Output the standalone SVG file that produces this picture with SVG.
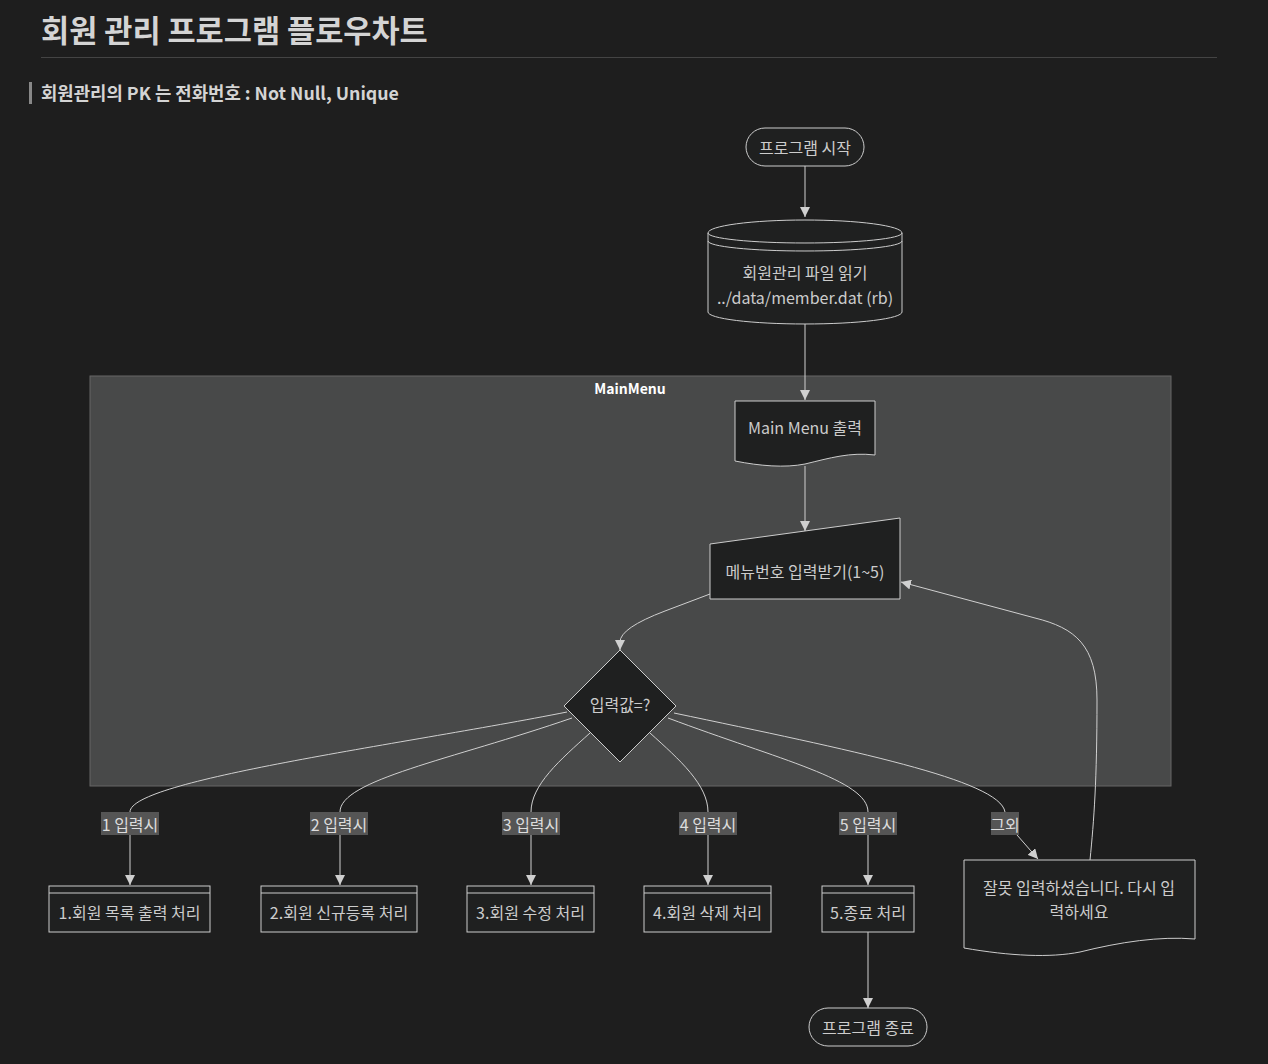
<svg xmlns="http://www.w3.org/2000/svg" width="1268" height="1064" viewBox="0 0 1268 1064">
<defs>
<style>
text{font-family:"Noto Sans CJK KR","Noto Sans",sans-serif;fill:#cccccc;}
.t{font-size:16px;text-anchor:middle;dominant-baseline:central;}
.node{fill:#1f2020;stroke:#cccccc;stroke-width:1;}
.edge{fill:none;stroke:#d0d0d0;stroke-width:1;}
.lbl{fill:#555555;}
.lt{font-size:16px;text-anchor:middle;dominant-baseline:central;fill:#dddddd;}
</style>
<marker id="arr" viewBox="0 0 10 10" refX="10" refY="5" markerWidth="10" markerHeight="10" markerUnits="userSpaceOnUse" orient="auto">
<path d="M0,0 L10,5 L0,10 z" fill="#d0d0d0"/>
</marker>
</defs>
<rect width="1268" height="1064" fill="#1e1e1e"/>
<g id="header">
<text x="41" y="42" style="font-size:30.6px;font-weight:bold;fill:#d4d4d4">회원 관리 프로그램 플로우차트</text>
<line x1="41" y1="57.5" x2="1217" y2="57.5" stroke="#444444" stroke-width="1"/>
<rect x="29" y="82" width="3" height="22" fill="#888888"/>
<text x="41" y="100" style="font-size:17.8px;font-weight:bold;fill:#d4d4d4">회원관리의 PK 는 전화번호 : Not Null, Unique</text>
</g>
<g id="MainMenu">
<rect x="90" y="376" width="1081" height="410" fill="#484949" stroke="#666666" stroke-width="1"/>
<text x="630" y="388" style="font-size:14px;font-weight:bold;fill:#ffffff;text-anchor:middle;dominant-baseline:central">MainMenu</text>
</g>
<g id="edges">
<path class="edge" d="M805,166 L805,217" marker-end="url(#arr)"/>
<path class="edge" d="M805,324 L805,400" marker-end="url(#arr)"/>
<path class="edge" d="M805,466 L805,531" marker-end="url(#arr)"/>
<path class="edge" d="M710,594 L665,611 Q620,628 620,642 L620,650" marker-end="url(#arr)"/>
<path class="edge" d="M567,712 C400,745 130,780 130,812"/>
<path class="edge" d="M572,718 C450,760 340,780 340,812"/>
<path class="edge" d="M590,733 C560,760 531,785 531,812"/>
<path class="edge" d="M650,733 C680,760 708,785 708,812"/>
<path class="edge" d="M668,718 C780,760 868,780 868,812"/>
<path class="edge" d="M674,713 C850,750 1000,780 1005,812"/>
<path class="edge" d="M130,835 L130,885" marker-end="url(#arr)"/>
<path class="edge" d="M340,835 L340,885" marker-end="url(#arr)"/>
<path class="edge" d="M531,835 L531,885" marker-end="url(#arr)"/>
<path class="edge" d="M708,835 L708,885" marker-end="url(#arr)"/>
<path class="edge" d="M868,835 L868,885" marker-end="url(#arr)"/>
<path class="edge" d="M1017,835 L1038,859" marker-end="url(#arr)"/>
<path class="edge" d="M1090,860 C1094,820 1097,780 1097,700 C1097,645 1075,628 1035,618 L901,582" marker-end="url(#arr)"/>
<path class="edge" d="M868,932 L868,1008" marker-end="url(#arr)"/>
<rect class="lbl" x="101" y="812" width="58" height="23"/>
<text class="lt" x="130" y="823.5">1 입력시</text>
<rect class="lbl" x="310" y="812" width="58" height="23"/>
<text class="lt" x="339" y="823.5">2 입력시</text>
<rect class="lbl" x="502" y="812" width="58" height="23"/>
<text class="lt" x="531" y="823.5">3 입력시</text>
<rect class="lbl" x="679" y="812" width="58" height="23"/>
<text class="lt" x="708" y="823.5">4 입력시</text>
<rect class="lbl" x="839" y="812" width="58" height="23"/>
<text class="lt" x="868" y="823.5">5 입력시</text>
<rect class="lbl" x="991" y="812" width="28" height="23"/>
<text class="lt" x="1005" y="823.5">그외</text>
</g>
<g id="start">
<rect class="node" x="746" y="128" width="118" height="38" rx="19"/>
<text class="t" x="805" y="147">프로그램 시작</text>
</g>
<g id="readfile">
<path class="node" d="M708,233 A97,13 0 0 1 902,233 L902,312 A97,12 0 0 1 708,312 Z"/>
<path class="edge" style="stroke:#cccccc" d="M708,233 A97,10 0 0 0 902,233"/>
<path class="edge" style="stroke:#cccccc" d="M708,241 A97,10 0 0 0 902,241"/>
<text class="t" x="805" y="272">회원관리 파일 읽기</text>
<text class="t" x="805" y="297">../data/member.dat (rb)</text>
</g>
<g id="mainmenu">
<path class="node" d="M735,401 L875,401 L875,455 C850,452 830,458 805,464 C785,468 760,466 735,461 Z"/>
<text class="t" x="805" y="427">Main Menu 출력</text>
</g>
<g id="input">
<path class="node" d="M710,544 L900,518 L900,599 L710,599 Z"/>
<text class="t" x="805" y="571">메뉴번호 입력받기(1~5)</text>
</g>
<g id="decision">
<path class="node" d="M620,650 L676,706 L620,762 L564,706 Z"/>
<text class="t" x="620" y="704">입력값=?</text>
</g>
<g id="p1">
<rect class="node" x="49" y="886" width="161" height="46"/>
<line x1="49" y1="893" x2="210" y2="893" stroke="#cccccc"/>
<text class="t" x="129.5" y="912">1.회원 목록 출력 처리</text>
</g>
<g id="p2">
<rect class="node" x="261" y="886" width="156" height="46"/>
<line x1="261" y1="893" x2="417" y2="893" stroke="#cccccc"/>
<text class="t" x="339" y="912">2.회원 신규등록 처리</text>
</g>
<g id="p3">
<rect class="node" x="467" y="886" width="127" height="46"/>
<line x1="467" y1="893" x2="594" y2="893" stroke="#cccccc"/>
<text class="t" x="530.5" y="912">3.회원 수정 처리</text>
</g>
<g id="p4">
<rect class="node" x="644" y="886" width="127" height="46"/>
<line x1="644" y1="893" x2="771" y2="893" stroke="#cccccc"/>
<text class="t" x="707.5" y="912">4.회원 삭제 처리</text>
</g>
<g id="p5">
<rect class="node" x="822" y="886" width="92" height="46"/>
<line x1="822" y1="893" x2="914" y2="893" stroke="#cccccc"/>
<text class="t" x="868" y="912">5.종료 처리</text>
</g>
<g id="error">
<path class="node" d="M964,860 L1195,860 L1195,939 C1160,936 1120,942 1080,952 C1050,958 1010,956 964,948 Z"/>
<text class="t" x="1079" y="887">잘못 입력하셨습니다. 다시 입</text>
<text class="t" x="1079" y="911">력하세요</text>
</g>
<g id="end">
<rect class="node" x="809" y="1008" width="118" height="38" rx="19"/>
<text class="t" x="868" y="1027">프로그램 종료</text>
</g>
</svg>
